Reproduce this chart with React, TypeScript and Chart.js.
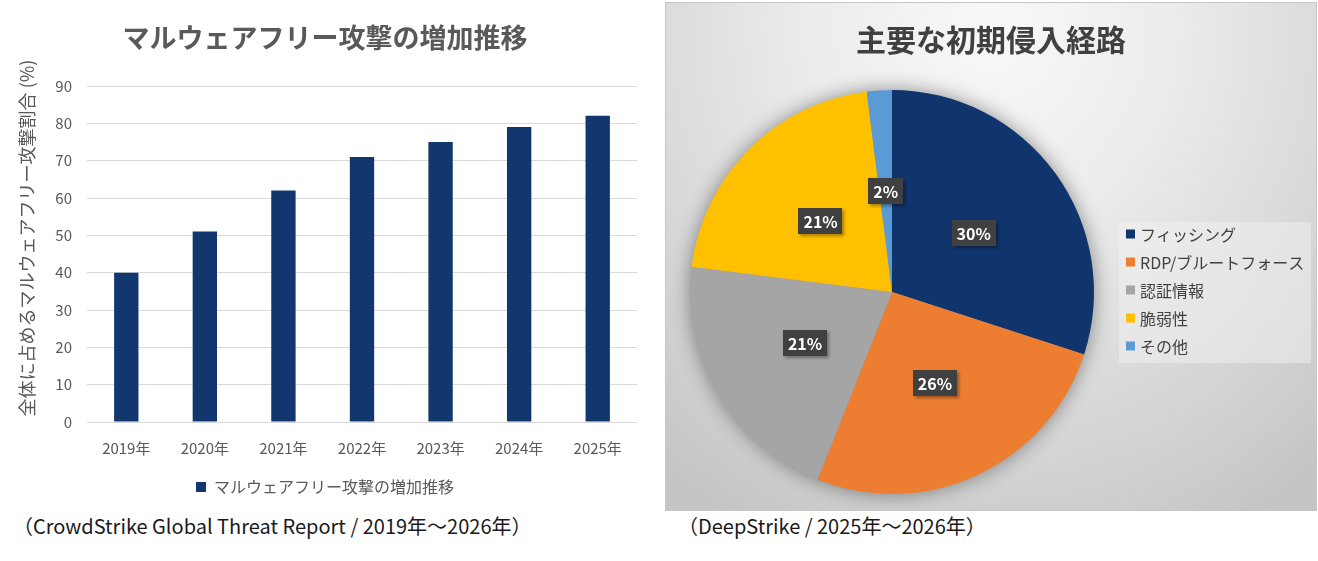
import React, { useEffect, useRef } from 'react';
import { Chart, registerables, layouts } from 'chart.js';

Chart.register(...registerables);

const FONT = '"Noto Sans CJK JP", "Noto Sans", sans-serif';

// Bar chart: share of malware-free attacks by year
const years = ['2019年', '2020年', '2021年', '2022年', '2023年', '2024年', '2025年'];
const malwareFreeShare = [40, 51, 62, 71, 75, 79, 82];
const barTitle = 'マルウェアフリー攻撃の増加推移';
const barSeriesName = 'マルウェアフリー攻撃の増加推移';
const yAxisTitle = '全体に占めるマルウェアフリー攻撃割合 (%)';
const yMin = 0;
const yMax = 90;
const yStep = 10;

// Pie chart: main initial access vectors
const pieTitle = '主要な初期侵入経路';
const vectors = ['フィッシング', 'RDP/ブルートフォース', '認証情報', '脆弱性', 'その他'];
const vectorShare = [30, 26, 21, 21, 2];
const vectorColors = ['#10356c', '#ed7d31', '#a5a5a5', '#ffc000', '#5b9bd5'];

const barSource = '（CrowdStrike Global Threat Report / 2019年～2026年）';
const pieSource = '（DeepStrike / 2025年～2026年）';

const NAVY = '#12376f';
const GREY_TEXT = '#595959';

// Rotated axis caption on the left of the bar chart
const yTitlePlugin = {
  id: 'yTitle',
  afterDraw(chart: any) {
    const { ctx } = chart;
    ctx.save();
    ctx.translate(27, 238);
    ctx.rotate(-Math.PI / 2);
    ctx.font = `18px ${FONT}`;
    ctx.fillStyle = GREY_TEXT;
    ctx.textAlign = 'center';
    ctx.textBaseline = 'middle';
    ctx.fillText(yAxisTitle, 0, 0);
    ctx.restore();
  },
};

// Soft drop shadow under the whole pie
const pieShadowPlugin = {
  id: 'pieShadow',
  beforeDatasetsDraw(chart: any) {
    const arc = chart.getDatasetMeta(0).data[0];
    if (!arc) return;
    const { ctx } = chart;
    ctx.save();
    ctx.shadowColor = 'rgba(0,0,0,0.45)';
    ctx.shadowBlur = 20;
    ctx.fillStyle = '#999';
    ctx.beginPath();
    ctx.arc(arc.x, arc.y, arc.outerRadius - 1, 0, Math.PI * 2);
    ctx.fill();
    ctx.restore();
  },
};

// Percentage callouts in dark boxes at the middle of each slice
const pieLabelPlugin = {
  id: 'pieLabels',
  afterDatasetsDraw(chart: any) {
    const { ctx } = chart;
    const meta = chart.getDatasetMeta(0);
    const values = chart.data.datasets[0].data as number[];
    ctx.save();
    ctx.font = `bold 16px ${FONT}`;
    ctx.textAlign = 'center';
    ctx.textBaseline = 'middle';
    meta.data.forEach((arc: any, i: number) => {
      const { x, y } = arc.getCenterPoint();
      const text = `${values[i]}%`;
      const w = ctx.measureText(text).width + 10;
      const h = 26;
      ctx.save();
      ctx.shadowColor = 'rgba(0,0,0,0.35)';
      ctx.shadowBlur = 3;
      ctx.shadowOffsetX = 2;
      ctx.shadowOffsetY = 2;
      ctx.fillStyle = '#404040';
      ctx.fillRect(Math.round(x - w / 2), Math.round(y - h / 2), Math.round(w), h);
      ctx.restore();
      ctx.fillStyle = '#ffffff';
      ctx.fillText(text, x, y + 1);
    });
    ctx.restore();
  },
};

// Legend as a layout box on the right side of the pie
const pieLegendPlugin = {
  id: 'pieLegend',
  afterInit(chart: any) {
    const box: any = {
      position: 'right',
      weight: 0,
      fullSize: false,
      options: { stackWeight: 1 },
      width: 0,
      height: 0,
      left: 0,
      top: 0,
      right: 0,
      bottom: 0,
      isHorizontal() {
        return false;
      },
      update(_maxW: number, maxH: number) {
        this.width = 198;
        this.height = maxH;
        return { width: this.width, height: this.height };
      },
      draw() {
        const { ctx, chartArea } = chart;
        const labels = chart.data.labels as string[];
        const colors = chart.data.datasets[0].backgroundColor as string[];
        const bx = this.left + 1;
        const bw = 192;
        const cy = (chartArea.top + chartArea.bottom) / 2;
        const by = cy - 70;
        const bh = 141;
        ctx.save();
        ctx.fillStyle = 'rgba(245,245,245,0.45)';
        ctx.fillRect(bx, by, bw, bh);
        ctx.font = `16px ${FONT}`;
        ctx.textAlign = 'left';
        ctx.textBaseline = 'middle';
        labels.forEach((label, i) => {
          const ry = by + 12 + i * 28;
          ctx.fillStyle = colors[i];
          ctx.fillRect(bx + 7, ry - 4.5, 9, 9);
          ctx.fillStyle = '#404040';
          ctx.fillText(label, bx + 21, ry + 1);
        });
        ctx.restore();
      },
    };
    layouts.addBox(chart, box);
  },
};

export default function App() {
  const barRef = useRef<HTMLCanvasElement>(null);
  const pieRef = useRef<HTMLCanvasElement>(null);

  useEffect(() => {
    const bar = new Chart(barRef.current as HTMLCanvasElement, {
      type: 'bar',
      data: {
        labels: years,
        datasets: [
          {
            label: barSeriesName,
            data: malwareFreeShare,
            backgroundColor: NAVY,
            borderWidth: 0,
            categoryPercentage: 1,
            barPercentage: 0.31,
          },
        ],
      },
      options: {
        responsive: false,
        animation: false,
        events: [],
        layout: { padding: { left: 13, right: 23, top: 0, bottom: 5 } },
        scales: {
          x: {
            grid: { display: false },
            border: { display: false },
            ticks: { color: GREY_TEXT, font: { family: FONT, size: 15 }, padding: 9 },
            afterFit(scale: any) {
              scale.height = 47;
            },
          },
          y: {
            min: yMin,
            max: yMax,
            ticks: { stepSize: yStep, color: GREY_TEXT, font: { family: FONT, size: 15 }, padding: 15 },
            grid: { color: '#d9d9d9', lineWidth: 1, drawTicks: false },
            border: { display: false },
            afterFit(scale: any) {
              scale.width = 74;
            },
          },
        },
        plugins: {
          title: {
            display: true,
            text: barTitle,
            color: GREY_TEXT,
            font: { family: FONT, size: 27, weight: 'bold' },
            padding: { top: 22, bottom: 31.6 },
          },
          legend: {
            position: 'bottom',
            labels: {
              color: GREY_TEXT,
              font: { family: FONT, size: 16 },
              boxWidth: 10,
              boxHeight: 10,
              padding: 10,
            },
          },
          tooltip: { enabled: false },
        },
      },
      plugins: [yTitlePlugin],
    });

    const pie = new Chart(pieRef.current as HTMLCanvasElement, {
      type: 'pie',
      data: {
        labels: vectors,
        datasets: [
          {
            data: vectorShare,
            backgroundColor: vectorColors,
            borderWidth: 0,
            radius: 202,
          },
        ],
      },
      options: {
        responsive: false,
        animation: false,
        events: [],
        layout: { padding: 0 },
        plugins: {
          title: {
            display: true,
            text: pieTitle,
            color: '#404040',
            font: { family: FONT, size: 30, weight: 'bold' },
            padding: { top: 19, bottom: 16 },
          },
          legend: { display: false },
          tooltip: { enabled: false },
        },
      },
      plugins: [pieShadowPlugin, pieLabelPlugin, pieLegendPlugin],
    });

    return () => {
      bar.destroy();
      pie.destroy();
    };
  }, []);

  const sourceStyle: React.CSSProperties = {
    position: 'absolute',
    top: 513,
    fontSize: 20,
    lineHeight: '26px',
    color: '#1a1a1a',
    whiteSpace: 'nowrap',
  };

  return (
    <div
      style={{
        position: 'absolute',
        left: 0,
        top: 0,
        width: 1318,
        height: 561,
        background: '#ffffff',
        fontFamily: FONT,
        overflow: 'hidden',
      }}
    >
      <canvas ref={barRef} width={660} height={510} style={{ position: 'absolute', left: 0, top: 0 }} />
      <div
        style={{
          position: 'absolute',
          left: 665,
          top: 2,
          width: 650,
          height: 507,
          border: '1px solid #c6c6c6',
          background:
            'radial-gradient(ellipse 80% 115% at 50% 4%, #f8f8f8 0%, #ececec 35%, #d6d6d6 72%, #c4c4c4 100%)',
        }}
      >
        <canvas ref={pieRef} width={650} height={507} style={{ display: 'block' }} />
      </div>
      <div style={{ ...sourceStyle, left: 13 }}>{barSource}</div>
      <div style={{ ...sourceStyle, left: 678 }}>{pieSource}</div>
    </div>
  );
}
